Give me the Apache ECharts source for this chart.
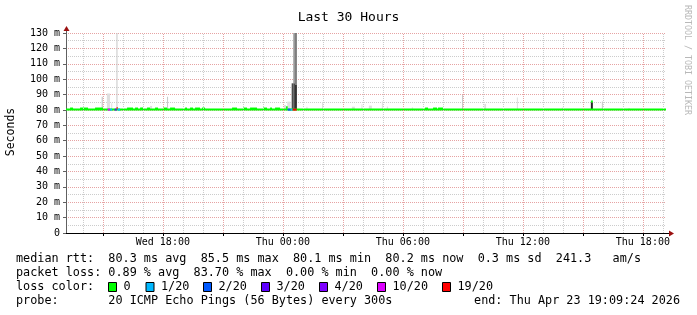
<!DOCTYPE html>
<html><head><meta charset="utf-8">
<script src="https://cdn.jsdelivr.net/npm/echarts@6/dist/echarts.min.js"></script>
<style>html,body{margin:0;padding:0;background:#fff}#c{width:697px;height:315px}</style>
</head><body><div id="c"></div>
<script>
const MONO = '"DejaVu Sans Mono", monospace';

// time axis: hours since Wed 00:00
const timeStart = 13.157;   // Wed 13:09:24
const timeEnd = 43.157;     // Thu 19:09:24
const xTickHours = [18, 24, 30, 36, 42];
const xTickLabels = ['Wed 18:00', 'Thu 00:00', 'Thu 06:00', 'Thu 12:00', 'Thu 18:00'];
const yTicks = [0, 10, 20, 30, 40, 50, 60, 70, 80, 90, 100, 110, 120, 130];
const yTickLabels = ['0', '10 m', '20 m', '30 m', '40 m', '50 m', '60 m', '70 m', '80 m', '90 m', '100 m', '110 m', '120 m', '130 m'];

const lossLabels = ['0', '1/20', '2/20', '3/20', '4/20', '10/20', '19/20'];
const lossColors = ['#00ff00', '#00b8ff', '#0059ff', '#5e00ff', '#7e00ff', '#dd00ff', '#ff0000'];

// median rtt (ms): baseline plus segments that differ from it
const medianBase = 80.2;
const medStart = [13.36, 13.86, 14.61, 15.24, 15.36, 15.59, 15.69, 15.74, 16.21, 16.61, 16.86, 17.21, 17.61, 18.01, 18.36, 19.11, 19.36, 19.61, 19.96, 21.46, 22.01, 22.36, 23.01, 23.36, 23.61, 24.16, 24.24, 24.39, 24.49, 31.11, 31.51, 31.76, 39.40];
const medEnd   = [13.51, 14.26, 15.01, 15.36, 15.46, 15.69, 15.74, 15.86, 16.51, 16.76, 17.01, 17.36, 17.76, 18.21, 18.61, 19.21, 19.51, 19.86, 20.11, 21.71, 22.21, 22.71, 23.21, 23.46, 23.86, 24.24, 24.39, 24.49, 24.69, 31.26, 31.71, 32.01, 39.50];
const medValue = [80.9, 80.9, 80.9, 80.2, 80.2, 80.2, 81.2, 80.2, 80.9, 80.9, 80.9, 80.9, 80.9, 80.9, 80.9, 80.9, 80.9, 80.9, 80.9, 80.9, 80.9, 80.9, 80.9, 80.9, 80.9, 81.8, 80.2, 80.2, 80.2, 80.9, 80.9, 80.9, 85.5];
const medLoss  = [0, 0, 0, 5, 1, 3, 6, 1, 0, 0, 0, 0, 0, 0, 0, 0, 0, 0, 0, 0, 0, 0, 0, 0, 0, 0, 2, 1, 6, 0, 0, 0, 0];

// smoke (ping spread), ms
const smokeStart = [14.94, 15.20, 15.42, 15.68, 16.93, 17.36, 18.21, 24.06, 24.18, 24.22, 24.44, 24.52, 24.52, 24.61, 24.61, 25.18, 25.96, 27.45, 27.93, 28.30, 28.95, 29.20, 30.45, 32.96, 34.07, 35.70, 37.95, 39.40, 39.95, 41.26];
const smokeEnd   = [15.00, 15.36, 15.47, 15.73, 17.01, 17.46, 18.26, 24.16, 24.24, 24.39, 24.52, 24.61, 24.61, 24.70, 24.70, 25.23, 26.00, 27.60, 27.98, 28.45, 29.00, 29.25, 30.50, 33.01, 34.16, 35.75, 38.05, 39.50, 40.00, 41.36];
const smokeLow   = [80.0, 80.0, 80.0, 80.0, 80.0, 80.0, 80.0, 80.0, 80.0, 80.0, 80.0, 97.3, 80.0, 96.2, 80.0, 80.0, 80.0, 80.0, 80.0, 80.0, 80.0, 80.0, 80.0, 80.0, 80.0, 80.0, 80.0, 80.0, 80.0, 80.0];
const smokeHigh  = [88.6, 90.7, 84.3, 130, 81.7, 82.6, 88.6, 83.2, 81.5, 85.4, 97.3, 130, 97.3, 130, 96.2, 82.1, 85.0, 82.1, 83.7, 82.8, 85.6, 82.3, 81.7, 89.7, 83.9, 88.0, 81.5, 85.0, 85.4, 81.0];
const smokeLevel = [1, 0, 0, 1, 0, 0, 1, 0, 5, 0, 4, 2, 4, 3, 5, 0, 0, 0, 0, 0, 0, 0, 0, 1, 0, 0, 0, 5, 1, 0];

const smokeColors = ['#dedede', '#c6c6c6', '#9a9a9a', '#767676', '#4c4c4c', '#262626'];

const smokeData = smokeStart.map((s, i) => [s, smokeEnd[i], smokeLow[i], smokeHigh[i], smokeLevel[i]]);
const medData = [[timeStart, timeEnd, medianBase, 0]].concat(
  medStart.map((s, i) => [s, medEnd[i], medValue[i], medLoss[i]]));

// vertical grid lines at whole hours
const gridMajor = [], gridMinor = [];
for (let h = Math.ceil(timeStart); h <= timeEnd; h++) {
  (h % 3 === 0 ? gridMajor : gridMinor).push({ xAxis: h });
}

const chart = echarts.init(document.getElementById('c'), null, { renderer: 'canvas' });

const legendY = [259, 273, 287, 301];
const graphics = [
  { type: 'text', x: 11, y: 132, rotation: Math.PI / 2, style: { text: 'Seconds', font: '11.5px ' + MONO, fill: '#000', align: 'center', verticalAlign: 'middle' } },
  { type: 'text', x: 687, y: 5, rotation: -Math.PI / 2, style: { text: 'RRDTOOL / TOBI OETIKER', font: '8.3px ' + MONO, fill: '#b8b8b8', align: 'left', verticalAlign: 'middle' } },
  { type: 'line', shape: { x1: 66.5, y1: 29, x2: 66.5, y2: 33 }, style: { stroke: '#606060', lineWidth: 1 } },
  { type: 'line', shape: { x1: 666, y1: 233.5, x2: 670, y2: 233.5 }, style: { stroke: '#000', lineWidth: 1 } },
  { type: 'polygon', shape: { points: [[63.5, 31], [66.5, 26], [69.5, 31]] }, style: { fill: '#9b1010' } },
  { type: 'polygon', shape: { points: [[669, 230.5], [674, 233.5], [669, 236.5]] }, style: { fill: '#9b1010' } },
  { type: 'text', x: 16, y: legendY[0], style: { text: 'median rtt:  80.3 ms avg  85.5 ms max  80.1 ms min  80.2 ms now  0.3 ms sd  241.3   am/s', font: '11.8px ' + MONO, fill: '#000', verticalAlign: 'middle' } },
  { type: 'text', x: 16, y: legendY[1], style: { text: 'packet loss: 0.89 % avg  83.70 % max  0.00 % min  0.00 % now', font: '11.8px ' + MONO, fill: '#000', verticalAlign: 'middle' } },
  { type: 'text', x: 16, y: legendY[2], style: { text: 'loss color:', font: '11.8px ' + MONO, fill: '#000', verticalAlign: 'middle' } },
  { type: 'text', x: 16, y: legendY[3], style: { text: 'probe:       20 ICMP Echo Pings (56 Bytes) every 300s', font: '11.8px ' + MONO, fill: '#000', verticalAlign: 'middle' } },
  { type: 'text', x: 680, y: legendY[3], style: { text: 'end: Thu Apr 23 19:09:24 2026', font: '11.8px ' + MONO, fill: '#000', align: 'right', verticalAlign: 'middle' } }
];
const boxX = [108, 145.5, 203, 261, 319, 377, 442];
lossLabels.forEach((lab, i) => {
  graphics.push({ type: 'rect', shape: { x: boxX[i] + 0.5, y: 282.5, width: 8, height: 9 }, style: { fill: lossColors[i], stroke: '#000', lineWidth: 1 } });
  graphics.push({ type: 'text', x: boxX[i] + 15.5, y: legendY[2], style: { text: lab, font: '11.8px ' + MONO, fill: '#000', verticalAlign: 'middle' } });
});

chart.setOption({
  animation: false,
  backgroundColor: '#fff',
  title: { text: 'Last 30 Hours', left: 'center', top: 6, textStyle: { fontFamily: MONO, fontSize: 13, fontWeight: 'normal', color: '#000' } },
  grid: { left: 66, top: 33, width: 600, height: 200, containLabel: false },
  xAxis: {
    type: 'value', min: timeStart, max: timeEnd,
    axisLine: { lineStyle: { color: '#000', width: 1 } },
    axisTick: { show: true, length: 3, customValues: gridMajor.map(g => g.xAxis), lineStyle: { color: '#000' } },
    axisLabel: { customValues: xTickHours, formatter: v => xTickLabels[xTickHours.indexOf(v)] || '', fontFamily: MONO, fontSize: 10, color: '#000', margin: 4 },
    splitLine: { show: false }
  },
  yAxis: {
    type: 'value', min: 0, max: 130, interval: 10,
    axisLine: { show: true, lineStyle: { color: '#606060' } },
    axisTick: { show: true, length: 3, lineStyle: { color: '#606060' } },
    axisLabel: { formatter: v => yTickLabels[yTicks.indexOf(v)], fontFamily: MONO, fontSize: 10, color: '#000', margin: 6 },
    splitLine: { show: true, lineStyle: { color: '#e6a3a3', type: [1, 1], width: 1 } },
    minorTick: { show: false, splitNumber: 2 },
    minorSplitLine: { show: true, lineStyle: { color: '#cccccc', type: [1, 1], width: 1 } }
  },
  series: [
    {
      type: 'line', data: [], z: 1, silent: true,
      markLine: {
        silent: true, symbol: 'none', label: { show: false }, animation: false,
        data: gridMinor.map(g => Object.assign({ lineStyle: { color: '#cccccc', type: [1, 1], width: 1 } }, g))
          .concat(gridMajor.map(g => Object.assign({ lineStyle: { color: '#e6a3a3', type: [1, 1], width: 1 } }, g)))
      }
    },
    {
      type: 'custom', z: 2, silent: true, clip: true,
      encode: { x: [0, 1], y: [2, 3] },
      data: smokeData,
      renderItem: (params, api) => {
        const p0 = api.coord([api.value(0), api.value(3)]);
        const p1 = api.coord([api.value(1), api.value(2)]);
        return { type: 'rect', shape: { x: p0[0], y: p0[1], width: Math.max(1, p1[0] - p0[0]), height: p1[1] - p0[1] }, style: { fill: smokeColors[api.value(4)] } };
      }
    },
    {
      type: 'custom', z: 3, silent: true, clip: true,
      encode: { x: [0, 1], y: 2 },
      data: medData,
      renderItem: (params, api) => {
        const p0 = api.coord([api.value(0), api.value(2)]);
        const p1 = api.coord([api.value(1), api.value(2)]);
        return { type: 'rect', shape: { x: p0[0], y: p0[1] - 1, width: p1[0] - p0[0], height: 2 }, style: { fill: lossColors[api.value(3)] } };
      }
    }
  ],
  graphic: graphics
});
</script>
</body></html>
